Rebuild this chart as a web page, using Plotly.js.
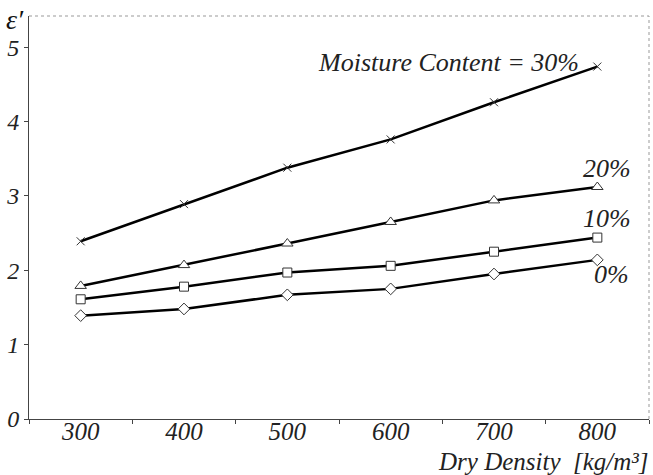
<!DOCTYPE html>
<html>
<head>
<meta charset="utf-8">
<script src="https://cdn.plot.ly/plotly-3.0.1.min.js"></script>
<style>html,body{margin:0;padding:0;background:#fff;}#chart{width:653px;height:475px;}
.preload{position:absolute;left:-9999px;top:0;font-family:'Liberation Serif';font-style:italic;font-size:24px;}</style>
</head>
<body>
<div class="preload">Moisture Content 0123456789 ε′ [kg/m³] %</div>
<div id="chart"></div>
<script>
const dryDensity = ["300", "400", "500", "600", "700", "800"];
const mc30 = [2.39, 2.89, 3.38, 3.76, 4.26, 4.74];
const mc20 = [1.79, 2.07, 2.36, 2.65, 2.94, 3.12];
const mc10 = [1.61, 1.78, 1.97, 2.06, 2.25, 2.44];
const mc0  = [1.39, 1.48, 1.67, 1.75, 1.95, 2.14];
const seriesLabels = ["Moisture Content = 30%", "20%", "10%", "0%"];
const yTicks = [0, 1, 2, 3, 4, 5];

const FAM = "Liberation Serif";
function tr(y, sym, size, name) {
  return {
    x: dryDensity, y: y, type: "scatter", mode: "lines+markers", name: name,
    line: {color: "#000", width: 2.5},
    marker: {symbol: sym, size: size, color: "#fff", line: {color: "#333", width: 1}}
  };
}
const data = [
  tr(mc30, "x-thin", 8, seriesLabels[0]),
  tr(mc20, "triangle-up", 10, seriesLabels[1]),
  tr(mc10, "square", 9, seriesLabels[2]),
  tr(mc0, "diamond", 9, seriesLabels[3])
];
data[0].marker = {symbol: "x-thin", size: 8, line: {color: "#333", width: 1}};

const txt = (size, color) => ({family: FAM, size: size, color: color || "#222", style: "italic"});
const layout = {
  width: 653, height: 475,
  margin: {l: 29, r: 4, t: 16, b: 56},
  paper_bgcolor: "#fff", plot_bgcolor: "#fff",
  showlegend: false,
  xaxis: {
    type: "category", range: [-0.5, 5.5], tickson: "boundaries",
    ticks: "outside", ticklen: 4, tickcolor: "#444", ticklabelstandoff: -10,
    showline: true, linecolor: "#444", linewidth: 1, showgrid: false, zeroline: false,
    tickfont: txt(25), fixedrange: true
  },
  yaxis: {
    range: [0, 5.42], tickvals: yTicks, ticktext: yTicks.map(String),
    ticks: "outside", ticklen: 4, tickcolor: "#444",
    showline: true, linecolor: "#444", linewidth: 1, showgrid: false, zeroline: false,
    tickfont: txt(24), fixedrange: true
  },
  shapes: [
    {type: "line", xref: "paper", yref: "paper", x0: 0, x1: 1, y0: 1, y1: 1, line: {color: "#999", width: 1, dash: "dot"}},
    {type: "line", xref: "paper", yref: "paper", x0: 1, x1: 1, y0: 0, y1: 1, line: {color: "#999", width: 1, dash: "dot"}}
  ],
  annotations: [
    {xref: "paper", yref: "paper", x: -0.023, y: 1.035, xanchor: "center", yanchor: "top", showarrow: false,
     text: "ε′", font: txt(28, "#111")},
    {xref: "paper", yref: "paper", x: 1.003, y: -0.105, xanchor: "right", yanchor: "middle", showarrow: false,
     text: "Dry Density  [kg/m³]", font: txt(25)},
    {xref: "x", yref: "y", x: 5, y: mc30[5] + 0.05, xanchor: "right", yanchor: "middle", xshift: -16, showarrow: false,
     text: seriesLabels[0], font: txt(26)},
    {xref: "x", yref: "y", x: 5, y: mc20[5] + 0.25, xanchor: "center", yanchor: "middle", xshift: 10, showarrow: false,
     text: seriesLabels[1], font: txt(26)},
    {xref: "x", yref: "y", x: 5, y: mc10[5] + 0.25, xanchor: "center", yanchor: "middle", xshift: 10, showarrow: false,
     text: seriesLabels[2], font: txt(26)},
    {xref: "x", yref: "y", x: 5, y: mc0[5] - 0.2, xanchor: "center", yanchor: "middle", xshift: 14, showarrow: false,
     text: seriesLabels[3], font: txt(26)}
  ]
};
function draw() { Plotly.newPlot("chart", data, layout, {displayModeBar: false, staticPlot: true}); }
if (document.fonts && document.fonts.load) {
  Promise.all([document.fonts.load('italic 24px "Liberation Serif"'), document.fonts.load('24px "Liberation Serif"')])
    .then(draw, draw);
} else { draw(); }
</script>
</body>
</html>
